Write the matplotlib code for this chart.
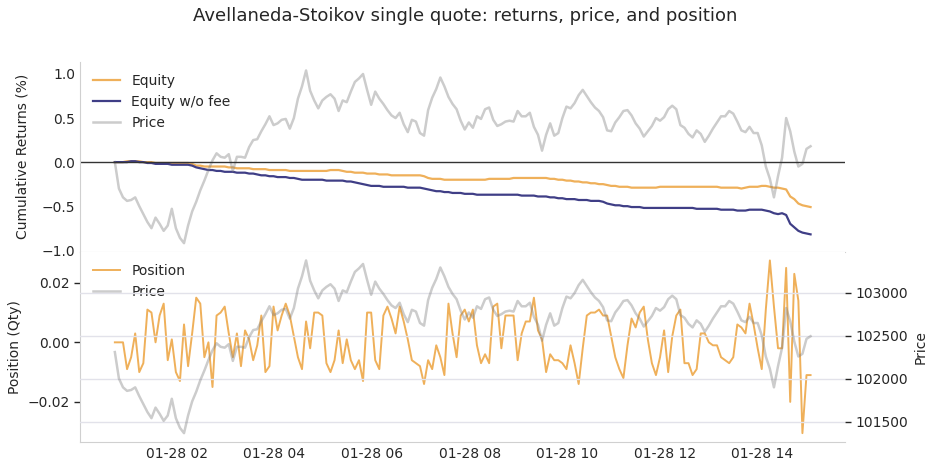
import matplotlib.pyplot as plt
import matplotlib.dates as mdates
import numpy as np
import pandas as pd

# 5-minute samples, 01-28 00:44 -> 14:59
times = pd.date_range("2025-01-28 00:44", periods=172, freq="5min")
price0 = 102310

price_ret = [
    0.00, -0.30, -0.40, -0.44, -0.43, -0.40, -0.50, -0.59, -0.68, -0.75,
    -0.63, -0.70, -0.78, -0.72, -0.53, -0.75, -0.86, -0.92, -0.72, -0.56,
    -0.45, -0.32, -0.21, -0.09, 0.02, 0.10, 0.06, 0.05, 0.09, -0.10,
    0.06, 0.06, 0.05, 0.17, 0.25, 0.26, 0.35, 0.43, 0.52, 0.42,
    0.44, 0.48, 0.49, 0.38, 0.50, 0.72, 0.86, 1.04, 0.81, 0.70,
    0.61, 0.70, 0.74, 0.77, 0.72, 0.58, 0.70, 0.68, 0.80, 0.91,
    0.95, 1.00, 0.82, 0.65, 0.80, 0.72, 0.66, 0.59, 0.53, 0.50,
    0.56, 0.43, 0.34, 0.48, 0.46, 0.33, 0.30, 0.59, 0.73, 0.83,
    0.96, 0.86, 0.74, 0.66, 0.60, 0.47, 0.37, 0.45, 0.39, 0.52,
    0.49, 0.60, 0.62, 0.48, 0.41, 0.43, 0.46, 0.47, 0.46, 0.58,
    0.52, 0.52, 0.56, 0.40, 0.31, 0.13, 0.31, 0.44, 0.30, 0.33,
    0.50, 0.63, 0.61, 0.67, 0.76, 0.82, 0.75, 0.68, 0.62, 0.58,
    0.51, 0.36, 0.35, 0.45, 0.51, 0.58, 0.59, 0.53, 0.44, 0.38,
    0.29, 0.35, 0.41, 0.50, 0.47, 0.51, 0.60, 0.64, 0.60, 0.42,
    0.39, 0.32, 0.28, 0.36, 0.32, 0.23, 0.30, 0.38, 0.45, 0.52,
    0.52, 0.58, 0.55, 0.46, 0.36, 0.34, 0.40, 0.33, 0.33, 0.19,
    -0.05, -0.19, -0.40, -0.16, 0.05, 0.50, 0.35, 0.12, -0.05, -0.02,
    0.15, 0.18,
]

equity = [
    0.00, 0.00, 0.00, 0.01, 0.01, 0.01, 0.01, 0.00, 0.00, 0.00,
    -0.01, -0.01, -0.01, -0.01, -0.01, -0.01, -0.01, -0.01, -0.01, -0.02,
    -0.04, -0.04, -0.05, -0.05, -0.05, -0.05, -0.05, -0.05, -0.06, -0.06,
    -0.07, -0.07, -0.07, -0.07, -0.08, -0.08, -0.08, -0.08, -0.09, -0.09,
    -0.09, -0.09, -0.09, -0.10, -0.10, -0.10, -0.10, -0.10, -0.10, -0.10,
    -0.10, -0.10, -0.10, -0.09, -0.09, -0.09, -0.10, -0.11, -0.11, -0.12,
    -0.12, -0.12, -0.13, -0.13, -0.13, -0.14, -0.14, -0.14, -0.15, -0.15,
    -0.15, -0.15, -0.15, -0.15, -0.15, -0.15, -0.16, -0.18, -0.19, -0.19,
    -0.19, -0.20, -0.20, -0.20, -0.20, -0.20, -0.20, -0.20, -0.20, -0.20,
    -0.20, -0.20, -0.19, -0.19, -0.19, -0.19, -0.19, -0.19, -0.18, -0.18,
    -0.18, -0.18, -0.18, -0.18, -0.18, -0.18, -0.18, -0.19, -0.19, -0.20,
    -0.20, -0.21, -0.21, -0.22, -0.22, -0.23, -0.23, -0.24, -0.24, -0.25,
    -0.25, -0.26, -0.27, -0.27, -0.28, -0.28, -0.28, -0.29, -0.29, -0.29,
    -0.29, -0.29, -0.29, -0.29, -0.28, -0.28, -0.28, -0.28, -0.28, -0.28,
    -0.28, -0.28, -0.28, -0.28, -0.28, -0.28, -0.28, -0.28, -0.28, -0.29,
    -0.29, -0.29, -0.29, -0.29, -0.30, -0.29, -0.28, -0.28, -0.28, -0.27,
    -0.27, -0.28, -0.29, -0.29, -0.30, -0.31, -0.39, -0.42, -0.47, -0.49,
    -0.50, -0.51,
]

equity_nofee = [
    0.00, 0.00, 0.00, 0.00, 0.01, 0.01, 0.00, 0.00, -0.01, -0.01,
    -0.02, -0.02, -0.02, -0.02, -0.03, -0.03, -0.03, -0.03, -0.03, -0.04,
    -0.06, -0.07, -0.08, -0.09, -0.09, -0.10, -0.10, -0.11, -0.11, -0.11,
    -0.12, -0.12, -0.12, -0.13, -0.13, -0.14, -0.15, -0.15, -0.16, -0.16,
    -0.17, -0.17, -0.17, -0.18, -0.18, -0.19, -0.20, -0.20, -0.20, -0.20,
    -0.20, -0.20, -0.21, -0.21, -0.21, -0.21, -0.21, -0.22, -0.22, -0.23,
    -0.24, -0.25, -0.26, -0.27, -0.27, -0.27, -0.28, -0.28, -0.28, -0.28,
    -0.28, -0.28, -0.29, -0.29, -0.29, -0.29, -0.30, -0.31, -0.32, -0.33,
    -0.33, -0.34, -0.34, -0.35, -0.35, -0.35, -0.36, -0.36, -0.36, -0.37,
    -0.37, -0.37, -0.37, -0.37, -0.37, -0.37, -0.37, -0.37, -0.37, -0.37,
    -0.38, -0.38, -0.38, -0.38, -0.39, -0.39, -0.39, -0.40, -0.40, -0.41,
    -0.41, -0.42, -0.42, -0.42, -0.43, -0.43, -0.43, -0.44, -0.44, -0.44,
    -0.45, -0.47, -0.48, -0.49, -0.49, -0.50, -0.50, -0.51, -0.51, -0.51,
    -0.52, -0.52, -0.52, -0.52, -0.52, -0.52, -0.52, -0.52, -0.52, -0.52,
    -0.52, -0.52, -0.52, -0.53, -0.53, -0.53, -0.53, -0.53, -0.53, -0.54,
    -0.54, -0.54, -0.54, -0.55, -0.55, -0.55, -0.54, -0.54, -0.54, -0.54,
    -0.55, -0.56, -0.58, -0.59, -0.58, -0.60, -0.70, -0.74, -0.78, -0.80,
    -0.81, -0.82,
]

# position in thousandths of a unit
position_milli = [
    0, 0, 0, -9, -5, 3, -10, -7, 11, 10,
    0, 9, 13, -6, 1, -10, -13, 6, -8, 3,
    15, 13, -5, 0, -15, 9, 10, 12, 3, -5,
    3, -8, 4, 1, -6, -1, 9, -10, -8, 12,
    4, 9, 13, 9, 2, -5, -9, 7, -2, 10,
    10, 9, -7, -10, -6, 4, -7, 1, -6, -9,
    -6, -13, 10, 10, -6, -9, 9, 12, 8, 3,
    12, 7, 1, -6, -7, -8, -14, -6, -9, -1,
    -5, -11, 13, 3, -5, 9, 11, 7, 11, -1,
    -7, -4, -7, 12, 13, -2, 9, 9, 9, -6,
    3, 7, 7, 15, 4, 1, -10, -4, -6, -6,
    -7, -9, -1, -7, -14, -2, 9, 10, 10, 11,
    9, 9, 2, -5, -9, -12, -1, 8, 5, 10,
    12, 1, -7, -11, -5, 4, -10, 2, 9, 11,
    -7, -7, -11, -9, 3, 3, 0, -1, -1, -5,
    -6, -7, -5, 6, 5, 3, 13, 6, -2, -9,
    11, 27.5, 12, -2, -2, 25, -20, 23, 14, -30.5,
    -11, -11,
]

price = price0 * (1 + np.array(price_ret) / 100)
position = np.array(position_milli) / 1000

orange = "#efb05a"
navy = "#3f3e86"
dark = "#262626"
light = "#d0d0d0"

plt.rcParams["font.family"] = "DejaVu Sans"
plt.rcParams["text.color"] = dark
plt.rcParams["axes.labelcolor"] = dark
plt.rcParams["xtick.color"] = dark
plt.rcParams["ytick.color"] = dark

fig, (ax1, ax2) = plt.subplots(2, 1, sharex=True, figsize=(9.31, 4.72), dpi=100)
fig.subplots_adjust(left=0.086, right=0.908, top=0.869, bottom=0.064, hspace=0)
fig.suptitle("Avellaneda-Stoikov single quote: returns, price, and position",
             fontsize=13, y=0.985)

# top: cumulative returns
ax1.plot(times, equity, color=orange, lw=1.6, label="Equity")
ax1.plot(times, equity_nofee, color=navy, lw=1.6, label="Equity w/o fee")
ax1.plot(times, price_ret, color="grey", alpha=0.4, lw=1.8, label="Price")
ax1.axhline(0, color="#333333", lw=1)
ax1.set_ylabel("Cumulative Returns (%)", fontsize=10, labelpad=9)
ax1.legend(loc="upper left", frameon=False, fontsize=10)
ax1.tick_params(axis="y", length=0, labelsize=10)
ax1.tick_params(axis="x", length=0)

# bottom: position + price on twin axis
ax2.plot(times, position, color=orange, lw=1.4, label="Position")
ax2.set_ylabel("Position (Qty)", fontsize=10)
ax2.tick_params(axis="y", length=4, width=1, labelsize=10)
ax2.tick_params(axis="x", length=0, labelsize=10)

ax3 = ax2.twinx()
ax3.plot(times, price, color="grey", alpha=0.4, lw=1.8, label="Price")
ax3.set_ylabel("Price", fontsize=10)
ax3.tick_params(axis="y", length=4, width=1, labelsize=10)

h1, l1 = ax2.get_legend_handles_labels()
h2, l2 = ax3.get_legend_handles_labels()
ax2.legend(h1 + h2, l1 + l2, loc="upper left", frameon=False, fontsize=10)

ax1.grid(False)
ax2.grid(False)
ax3.grid(True, axis="y", color="#e2e2ea", lw=1)
ax3.grid(False, axis="x")

for ax in (ax1, ax2, ax3):
    for side in ("top", "right"):
        ax.spines[side].set_visible(False)
    for side in ("left", "bottom"):
        ax.spines[side].set_color(light)
ax3.spines["left"].set_visible(False)
ax3.spines["bottom"].set_visible(False)

ax2.xaxis.set_major_locator(mdates.HourLocator(interval=2))
ax2.xaxis.set_major_formatter(mdates.DateFormatter("%m-%d %H"))

plt.savefig("out.png", dpi=100)
